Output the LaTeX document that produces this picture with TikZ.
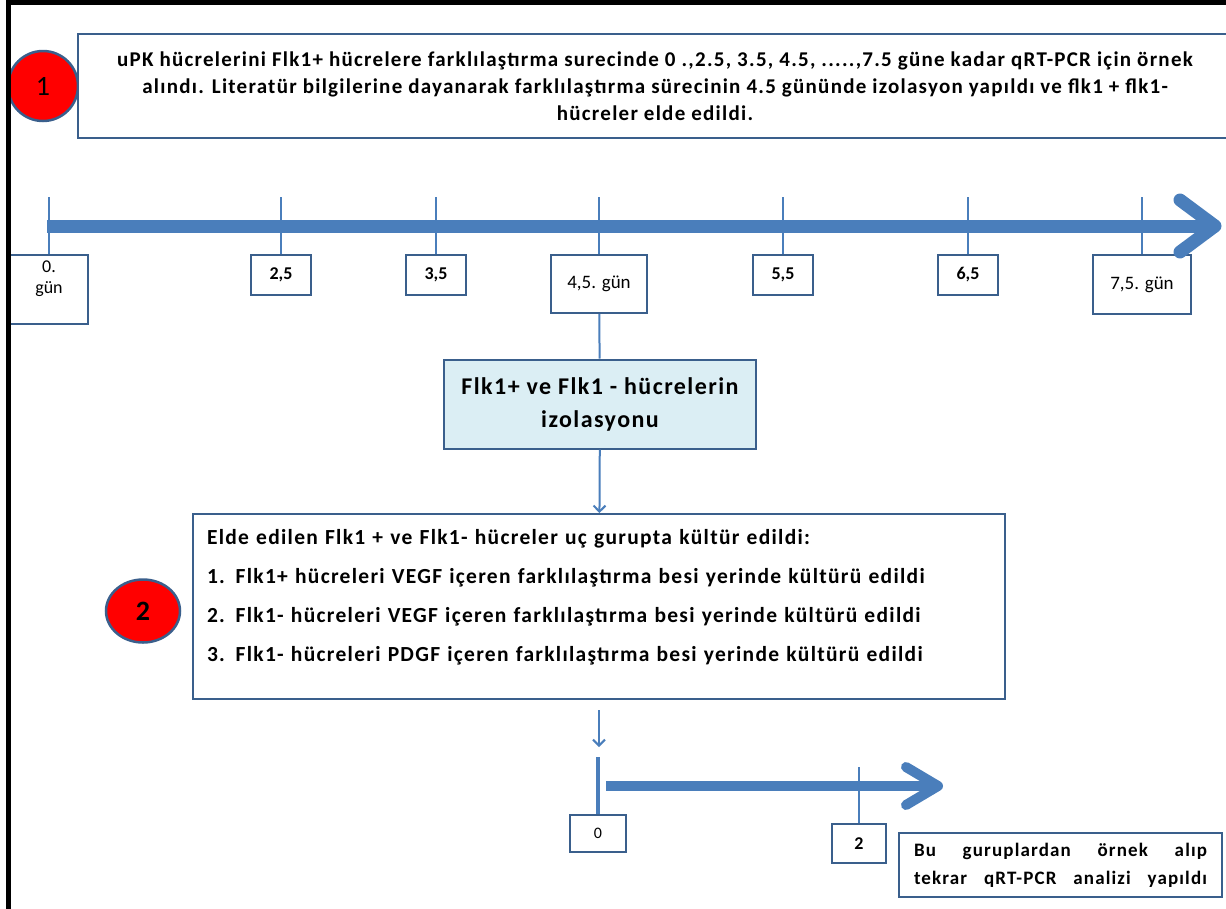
\documentclass[tikz,border=0pt]{standalone}
\usepackage{fontspec}
\setmainfont{Carlito}
\newfontfamily\spaced{Carlito}[LetterSpace=6]
\usepackage{tikz}
\usetikzlibrary{shapes.geometric,arrows.meta}
\definecolor{axisblue}{RGB}{74,126,187}
\definecolor{edgeblue}{RGB}{58,95,140}
\definecolor{isoblue}{RGB}{219,238,244}
\tikzset{
  panel/.style={draw=edgeblue,line width=2,fill=white,inner sep=0},
  daybox/.style={panel,anchor=north,minimum height=40,font=\bfseries\fontsize{18}{20}\selectfont},
  daylong/.style={daybox,font=\fontsize{19}{20}\selectfont},
  tick/.style={axisblue,line width=2},
  axis/.style={axisblue,line width=13,line join=round},
  numball/.style={ellipse,draw=edgeblue,line width=2.5,fill=red,inner sep=0}
}
\begin{document}
\begin{tikzpicture}[x=1pt,y=-1pt]
          \useasboundingbox (0,0) rectangle (1226,908);
          % first step
          \node[numball,minimum width=70,minimum height=70,font=\fontsize{28}{30}\selectfont] (n1) at (43,86) {1};
          \node[panel,minimum width=1154,minimum height=104,align=center,font=\spaced\bfseries\fontsize{21}{27}\selectfont] (intro) at (655,86)
            {uPK hücrelerini Flk1+ hücrelere farklılaştırma surecinde 0 .,2.5,  3.5, 4.5, .....,7.5 güne kadar qRT-PCR için örnek\\
             alındı. Literatür bilgilerine dayanarak  farklılaştırma sürecinin 4.5 gününde izolasyon yapıldı ve flk1 + flk1-\\
             hücreler elde edildi.};
          % time line
          \coordinate (t0) at (47,226);
          \coordinate (tip) at (1215,226);
          \node[panel,anchor=north,minimum width=78,align=center,font=\fontsize{18}{21}\selectfont,text height=38,text depth=31] (d0) at (49,254) {0.\\gün};
          \foreach \x/\lab/\n in {281/{2,5}/a,436/{3,5}/b,783/{5,5}/c,968/{6,5}/d}{
            \node[daybox,minimum width=60] (d\n) at (\x,254) {\lab};}
          \node[daylong,minimum width=96,minimum height=58] (d45) at (599,254) {4,5. gün};
          \node[daylong,minimum width=98,minimum height=59] (d75) at (1142,254) {7,5. gün};
          \foreach \n in {d0,da,db,d45,dc,dd,d75}
            \draw[tick] (\n.north) ++(0,-57) -- (\n);
          \draw[axis] (t0) -- (tip);
          \draw[axis,line cap=round] (1180,200) -- (tip) -- (1180,252);
          % isolation
          \node[panel,fill=isoblue,minimum width=312,minimum height=89,align=center,font=\spaced\bfseries\fontsize{24}{33}\selectfont] (iso) at (600,404)
            {Flk1+ ve Flk1 - hücrelerin\\izolasyonu};
          \draw[tick] (d45) -- (iso);
          % second step
          \node[panel,anchor=north,minimum width=812,text width=784,inner xsep=14,align=left,text height=30,text depth=155,font=\spaced\bfseries\fontsize{21.5}{39}\selectfont] (groups) at (599,513)
            {Elde edilen Flk1 + ve Flk1- hücreler uç gurupta kültür edildi:\\
             1. Flk1+ hücreleri  VEGF içeren farklılaştırma besi yerinde  kültürü edildi\\
             2. Flk1- hücreleri  VEGF  içeren farklılaştırma besi yerinde  kültürü edildi\\
             3. Flk1- hücreleri  PDGF içeren farklılaştırma besi yerinde  kültürü edildi};
          \draw[tick,-{Straight Barb[length=6,width=12]}] (iso) -- (groups);
          \node[numball,minimum width=74,minimum height=63,font=\bfseries\fontsize{28}{30}\selectfont] (n2) at (143,611) {2};
          % short time line
          \coordinate (a0) at (599,710);
          \coordinate (a1) at (599,747);
          \draw[tick,-{Straight Barb[length=6,width=12]}] (a0) -- (a1);
          \node[panel,anchor=north,minimum width=56,minimum height=37,font=\fontsize{16}{18}\selectfont] (e0) at (598,814) {0};
          \node[daybox,minimum width=54,minimum height=39] (e2) at (859,823) {2};
          \draw[tick,line width=4] (e0.north) ++(0,-57) -- (e0);
          \draw[tick] (e2.north) ++(0,-56) -- (e2);
          \coordinate (s0) at (606,786);
          \coordinate (stip) at (938,786);
          \draw[axis,line width=10] (s0) -- (stip);
          \draw[axis,line width=10,line cap=round] (906,767) -- (stip) -- (906,805);
          \node[panel,minimum width=323,minimum height=64,text width=293,inner xsep=15,align=left,font=\spaced\bfseries\fontsize{19}{28}\selectfont] (note) at (1060.5,865)
            {Bu\hfill guruplardan\hfill örnek\hfill alıp\\tekrar\hfill qRT-PCR\hfill analizi\hfill yapıldı};
          % outer frame
          \draw[line width=5] (8,912) -- (8,2.5) -- (1230,2.5);
        \end{tikzpicture}
\end{document}
